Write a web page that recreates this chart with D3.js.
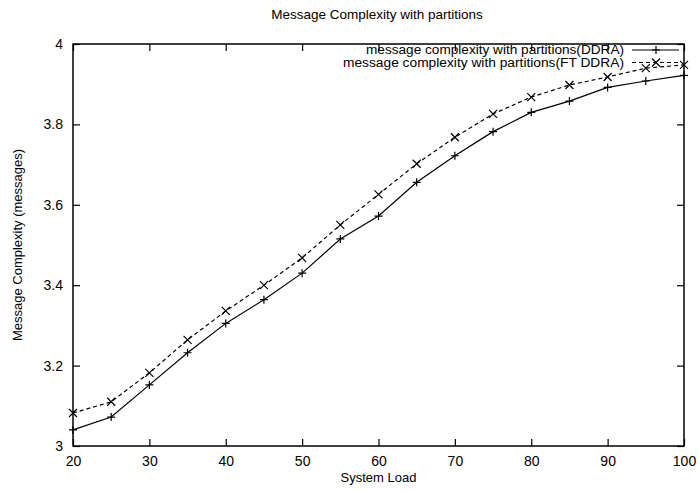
<!DOCTYPE html>
<html>
<head>
<meta charset="utf-8">
<script src="https://cdn.jsdelivr.net/npm/d3@7"></script>
<style>
  body { margin: 0; background: #fff; }
  svg { font-family: "Liberation Sans", Arial, sans-serif; }
</style>
</head>
<body>
<div id="chart"></div>
<script>
// data
const loads = [20, 25, 30, 35, 40, 45, 50, 55, 60, 65, 70, 75, 80, 85, 90, 95, 100];
const ddra = [3.04, 3.072, 3.152, 3.232, 3.305, 3.364, 3.43, 3.515, 3.572, 3.656, 3.722, 3.782, 3.83, 3.858, 3.892, 3.908, 3.922];
const ftDdra = [3.082, 3.11, 3.182, 3.264, 3.336, 3.4, 3.468, 3.55, 3.626, 3.702, 3.768, 3.826, 3.868, 3.898, 3.918, 3.94, 3.948];
const xTicks = [20, 30, 40, 50, 60, 70, 80, 90, 100];
const yTicks = [3, 3.2, 3.4, 3.6, 3.8, 4];

const W = 699, H = 491;
const margin = { top: 44, right: 15, bottom: 45, left: 73 };

const svg = d3.select("#chart").append("svg")
    .attr("width", W)
    .attr("height", H);

const x = d3.scaleLinear().domain([20, 100]).range([margin.left, W - margin.right]);
const y = d3.scaleLinear().domain([3, 4]).range([H - margin.bottom, margin.top]);

// frame
svg.append("rect")
    .attr("x", x(20)).attr("y", y(4))
    .attr("width", x(100) - x(20)).attr("height", y(3) - y(4))
    .attr("fill", "none").attr("stroke", "#000").attr("stroke-width", 1.5);

// inward ticks on all four sides (gnuplot style)
const tickLen = 7;
svg.append("g")
    .attr("transform", `translate(0,${y(3)})`)
    .call(d3.axisBottom(x).tickValues(xTicks).tickSize(-tickLen).tickPadding(10).tickFormat(d3.format("d")))
    .call(g => g.select(".domain").remove());
svg.append("g")
    .attr("transform", `translate(0,${y(4)})`)
    .call(d3.axisTop(x).tickValues(xTicks).tickSize(-tickLen).tickFormat(""))
    .call(g => g.select(".domain").remove());
svg.append("g")
    .attr("transform", `translate(${x(20)},0)`)
    .call(d3.axisLeft(y).tickValues(yTicks).tickSize(-tickLen).tickPadding(10).tickFormat(d => d3.format("~g")(d)))
    .call(g => g.select(".domain").remove());
svg.append("g")
    .attr("transform", `translate(${x(100)},0)`)
    .call(d3.axisRight(y).tickValues(yTicks).tickSize(-tickLen).tickFormat(""))
    .call(g => g.select(".domain").remove());

svg.selectAll(".tick text").attr("font-size", 14).attr("fill", "#000")
    .attr("font-family", "'Liberation Sans', Arial, sans-serif");
svg.selectAll(".tick line").attr("stroke", "#000").attr("stroke-width", 1.2);

// titles
svg.append("text")
    .attr("x", 377).attr("y", 19)
    .attr("text-anchor", "middle").attr("font-size", 13.5)
    .text("Message Complexity with partitions");
svg.append("text")
    .attr("x", (x(20) + x(100)) / 2).attr("y", 482)
    .attr("text-anchor", "middle").attr("font-size", 13)
    .text("System Load");
svg.append("text")
    .attr("transform", `translate(22,${(y(3) + y(4)) / 2}) rotate(-90)`)
    .attr("text-anchor", "middle").attr("font-size", 13)
    .text("Message Complexity (messages)");

const line = d3.line()
    .x((d, i) => x(loads[i]))
    .y(d => y(d));

// markers
function plus(g, cx, cy, s) {
    g.append("path")
        .attr("d", `M${cx - s},${cy}H${cx + s}M${cx},${cy - s}V${cy + s}`)
        .attr("stroke", "#000").attr("stroke-width", 1.2);
}
function cross(g, cx, cy, s) {
    g.append("path")
        .attr("d", `M${cx - s},${cy - s}L${cx + s},${cy + s}M${cx - s},${cy + s}L${cx + s},${cy - s}`)
        .attr("stroke", "#000").attr("stroke-width", 1.2);
}

const series = [
    { name: "message complexity with partitions(DDRA)", values: ddra, dash: null, mark: plus, width: 258 },
    { name: "message complexity with partitions(FT DDRA)", values: ftDdra, dash: "4,3", mark: cross, width: 281 }
];

series.forEach((s, k) => {
    const g = svg.append("g");
    g.append("path")
        .datum(s.values)
        .attr("d", line)
        .attr("fill", "none")
        .attr("stroke", "#000")
        .attr("stroke-width", 1.2)
        .attr("stroke-dasharray", s.dash);
    s.values.forEach((v, i) => s.mark(g, x(loads[i]), y(v), 4));

    // legend entry
    const ly = 50 + k * 12.5;
    svg.append("text")
        .attr("x", 624).attr("y", ly + 4)
        .attr("text-anchor", "end").attr("font-size", 12)
        .attr("textLength", s.width).attr("lengthAdjust", "spacingAndGlyphs")
        .text(s.name);
    svg.append("line")
        .attr("x1", 632).attr("x2", 679).attr("y1", ly).attr("y2", ly)
        .attr("stroke", "#000").attr("stroke-width", 1.2)
        .attr("stroke-dasharray", s.dash);
    s.mark(svg, 656, ly, 4);
});
</script>
</body>
</html>
